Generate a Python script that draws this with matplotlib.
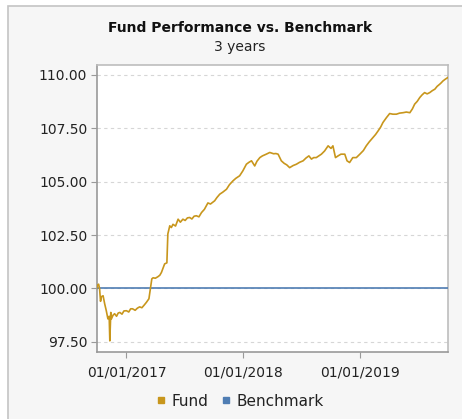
import numpy as np
import pandas as pd
import matplotlib
matplotlib.use("Agg")
import matplotlib.pyplot as plt
import matplotlib.dates as mdates
from matplotlib.patches import Rectangle
from matplotlib.lines import Line2D

# values (growth of 100)
fund_dates = [
    "2016-09-30", "2016-10-03", "2016-10-06", "2016-10-09", "2016-10-12", "2016-10-15",
    "2016-10-20", "2016-10-25", "2016-10-30", "2016-11-04", "2016-11-08", "2016-11-10",
    "2016-11-13", "2016-11-15", "2016-11-20", "2016-11-25", "2016-12-01", "2016-12-06",
    "2016-12-11", "2016-12-18", "2016-12-24", "2017-01-01", "2017-01-08", "2017-01-14",
    "2017-01-20", "2017-01-28", "2017-02-04", "2017-02-11", "2017-02-18", "2017-02-25",
    "2017-03-04", "2017-03-12", "2017-03-17", "2017-03-21", "2017-03-25", "2017-04-01",
    "2017-04-09", "2017-04-15", "2017-04-20", "2017-04-25", "2017-04-30", "2017-05-07",
    "2017-05-10", "2017-05-16", "2017-05-21", "2017-05-26", "2017-06-03", "2017-06-11",
    "2017-06-18", "2017-06-26", "2017-07-03", "2017-07-10", "2017-07-17", "2017-07-24",
    "2017-07-31", "2017-08-07", "2017-08-15", "2017-08-23", "2017-09-01", "2017-09-12",
    "2017-09-20", "2017-10-03", "2017-10-10", "2017-10-19", "2017-10-28", "2017-11-09",
    "2017-11-18", "2017-11-29", "2017-12-08", "2017-12-20", "2017-12-30", "2018-01-10",
    "2018-01-18", "2018-01-26", "2018-02-05", "2018-02-12", "2018-02-21", "2018-03-01",
    "2018-03-13", "2018-03-24", "2018-04-05", "2018-04-12", "2018-04-19", "2018-04-29",
    "2018-05-08", "2018-05-16", "2018-05-25", "2018-06-05", "2018-06-15", "2018-06-25",
    "2018-07-06", "2018-07-15", "2018-07-24", "2018-08-01", "2018-08-08", "2018-08-16",
    "2018-09-01", "2018-09-11", "2018-09-22", "2018-10-01", "2018-10-07", "2018-10-15",
    "2018-10-23", "2018-11-01", "2018-11-13", "2018-11-20", "2018-11-28", "2018-12-08",
    "2018-12-19", "2018-12-30", "2019-01-10", "2019-01-19", "2019-01-28", "2019-02-09",
    "2019-02-17", "2019-02-25", "2019-03-05", "2019-03-12", "2019-03-23", "2019-04-02",
    "2019-04-12", "2019-04-23", "2019-05-03", "2019-05-14", "2019-05-24", "2019-06-04",
    "2019-06-12", "2019-06-19", "2019-06-27", "2019-07-05", "2019-07-12", "2019-07-20",
    "2019-07-28", "2019-08-05", "2019-08-13", "2019-08-21", "2019-08-28", "2019-09-05",
    "2019-09-10", "2019-09-15", "2019-09-22", "2019-09-30",
]
fund_values = [
    100.00, 100.16, 100.20, 100.00, 99.40, 99.62,
    99.66, 99.28, 98.96, 98.58, 98.70, 97.55,
    98.88, 98.58, 98.75, 98.82, 98.70, 98.85,
    98.88, 98.80, 98.95, 98.96, 98.90, 99.05,
    99.05, 98.98, 99.08, 99.14, 99.10, 99.22,
    99.35, 99.52, 100.05, 100.45, 100.50, 100.48,
    100.55, 100.62, 100.75, 100.95, 101.15, 101.20,
    102.55, 102.93, 102.85, 103.00, 102.92, 103.24,
    103.10, 103.24, 103.18, 103.30, 103.32, 103.25,
    103.38, 103.40, 103.35, 103.55, 103.70, 104.00,
    103.95, 104.10, 104.25, 104.41, 104.50, 104.64,
    104.85, 105.03, 105.15, 105.27, 105.50, 105.81,
    105.90, 105.97, 105.73, 105.95, 106.12, 106.20,
    106.28, 106.36, 106.30, 106.31, 106.28, 105.97,
    105.85, 105.78, 105.65, 105.75, 105.81, 105.90,
    105.97, 106.10, 106.20, 106.05, 106.12, 106.12,
    106.28, 106.43, 106.67, 106.55, 106.67, 106.12,
    106.20, 106.28, 106.28, 105.97, 105.89, 106.12,
    106.12, 106.28, 106.45, 106.67, 106.85, 107.06,
    107.20, 107.37, 107.55, 107.76, 107.99, 108.18,
    108.15, 108.15, 108.20, 108.22, 108.25, 108.22,
    108.40, 108.62, 108.75, 108.93, 109.05, 109.16,
    109.10, 109.16, 109.25, 109.32, 109.45, 109.55,
    109.62, 109.70, 109.78, 109.86,
]
bench_dates = ["2016-09-30", "2019-09-30"]
bench_values = [100.0, 100.0]

y_ticks = [97.5, 100.0, 102.5, 105.0, 107.5, 110.0]
x_ticks = ["2017-01-01", "2018-01-01", "2019-01-01"]

fund_color = "#c8961c"
bench_color = "#4f7db3"

W, H = 462, 419
fig = plt.figure(figsize=(W / 100, H / 100), dpi=100, facecolor="white")
# panel background with border (open on the right, like the reference)
panel = Rectangle((8 / W, -0.05), 1.2, 1 - 6 / H + 0.05, transform=fig.transFigure,
                  facecolor="#f6f6f6", edgecolor="#c4c4c4", linewidth=1.2, zorder=-5)
fig.add_artist(panel)

ax = fig.add_axes([97 / W, 1 - 352 / H, (448 - 97) / W, (352 - 65) / H], zorder=2)
ax.set_facecolor("white")

fd = pd.to_datetime(fund_dates)
bd = pd.to_datetime(bench_dates)
ax.plot(bd, bench_values, color=bench_color, lw=1.2, zorder=3)
ax.plot(fd, fund_values, color=fund_color, lw=1.2, zorder=4)

ax.set_xlim(pd.Timestamp("2016-10-01"), pd.Timestamp("2019-10-01"))
ax.set_ylim(97.03, 110.45)
ax.set_yticks(y_ticks)
ax.set_yticklabels([f"{v:.2f}" for v in y_ticks])
ax.set_xticks(pd.to_datetime(x_ticks))
ax.xaxis.set_major_formatter(mdates.DateFormatter("%m/%d/%Y"))
ax.grid(axis="y", color="#d6d6d6", linestyle=(0, (3, 3)), linewidth=0.8)
ax.set_axisbelow(True)

for s in ax.spines.values():
    s.set_color("#bdbdbd")
    s.set_linewidth(1.2)
ax.spines["left"].set_color("#999999")
ax.spines["bottom"].set_color("#999999")
ax.tick_params(axis="both", colors="#999999", labelcolor="#222222", labelsize=10,
               length=4, width=0.8)
ax.tick_params(axis="x", pad=6)
ax.tick_params(axis="y", pad=3)

fig.text(240 / W, 1 - 28 / H, "Fund Performance vs. Benchmark", ha="center", va="center",
         fontsize=10, fontweight="bold", color="#111111")
fig.text(240 / W, 1 - 47 / H, "3 years", ha="center", va="center", fontsize=10, color="#222222")

handles = [
    Line2D([], [], marker="s", linestyle="none", markersize=5, color=fund_color),
    Line2D([], [], marker="s", linestyle="none", markersize=5, color=bench_color),
]
fig.legend(handles, ["Fund", "Benchmark"], loc="center", bbox_to_anchor=(240 / W, 1 - 401 / H),
           ncol=2, frameon=False, fontsize=11, handlelength=0.6, handletextpad=0.4,
           columnspacing=0.8, labelcolor="#222222")

fig.savefig("out.png", dpi=100, facecolor=fig.get_facecolor())
